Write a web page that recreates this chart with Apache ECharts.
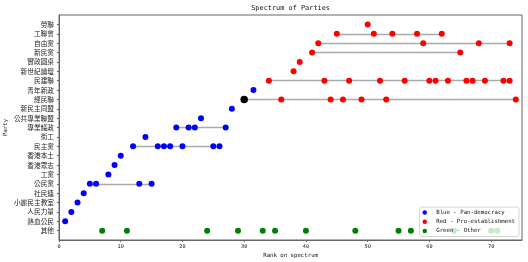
<!DOCTYPE html>
<html>
<head>
<meta charset="utf-8">
<script src="https://cdn.jsdelivr.net/npm/echarts@6/dist/echarts.min.js"></script>
<style>html,body{margin:0;padding:0;background:#fff}#c{width:528px;height:262px}</style>
</head>
<body>
<div id="c"></div>
<script>
// Parties, top to bottom
const parties = ['勞聯','工聯會','自由黨','新民黨','實政圓桌','新世紀論壇','民建聯','青年新政','經民聯','新民主同盟','公共專業聯盟','專業議政','街工','民主黨','香港本土','香港眾志','工黨','公民黨','社民連','小麗民主教室','人民力量','熱血公民','其他'];

// [party, ranks]
const bluePoints = [
  ['熱血公民',[1]], ['人民力量',[2]], ['小麗民主教室',[3]], ['社民連',[4]],
  ['公民黨',[5,6,13,15]], ['工黨',[8]], ['香港眾志',[9]], ['香港本土',[10]],
  ['民主黨',[12,16,17,18,20,25,26]], ['街工',[14]], ['專業議政',[19,21,22,27]],
  ['公共專業聯盟',[23]], ['新民主同盟',[28]], ['青年新政',[31.5]]
];
const redPoints = [
  ['勞聯',[50]], ['工聯會',[45,51,54,58,62]], ['自由黨',[42,59,68,73]],
  ['新民黨',[41,65]], ['實政圓桌',[39]], ['新世紀論壇',[38]],
  ['民建聯',[34,43,47,52,56,60,61,63,66,67,69,72,73]],
  ['經民聯',[36,44,46,49,53,74]]
];
const blackPoints = [['經民聯',[30]]];
const greenPoints = [['其他',[7,11,24,29,33,35,40,48,55,57,64,70,71]]];

const xTicks = [0,10,20,30,40,50,60,70];
const legendNames = ['Blue - Pan-democracy','Red - Pro-establishment','Green - Other'];

function toData(points){
  const out = [];
  points.forEach(([p, ranks]) => ranks.forEach(r => out.push([r, parties.indexOf(p)])));
  return out;
}
// range lines per party (non-green)
const ranges = {};
[bluePoints, redPoints, blackPoints].forEach(arr => arr.forEach(([p, ranks]) => {
  ranges[p] = (ranges[p] || []).concat(ranks);
}));
const lineData = [];
Object.keys(ranges).forEach(p => {
  const r = ranges[p];
  if (r.length > 1) {
    const row = parties.indexOf(p);
    lineData.push({coords: [[Math.min(...r), row], [Math.max(...r), row]]});
  }
});

const mono = 'DejaVu Sans Mono';
const cjk = '"Noto Sans CJK TC"';
const chart = echarts.init(document.getElementById('c'), null, {renderer: 'canvas'});
chart.setOption({
  animation: false,
  grid: {left: 59, right: 6, top: 15, bottom: 22, show: true, borderColor: '#666', borderWidth: 1, backgroundColor: 'transparent'},
  xAxis: {
    type: 'value', min: 0, max: 75, interval: 10,
    axisLine: {show: true, onZero: false, lineStyle: {color: '#666', width: 1}},
    axisTick: {show: true, length: 2, lineStyle: {color: '#666'}, customValues: xTicks},
    axisLabel: {margin: 4, fontSize: 5.2, fontFamily: mono, color: '#111', customValues: xTicks},
    splitLine: {show: false}
  },
  yAxis: {
    type: 'value', inverse: true, min: -1, max: 23, interval: 1,
    axisLine: {show: true, onZero: false, lineStyle: {color: '#666', width: 1}},
    axisTick: {show: true, length: 2, lineStyle: {color: '#666'}, customValues: parties.map((_, i) => i)},
    axisLabel: {margin: 5, fontSize: 6.7, fontFamily: cjk, color: '#222',
      customValues: parties.map((_, i) => i),
      formatter: v => (parties[v] !== undefined ? parties[v] : '')},
    splitLine: {show: false}
  },
  legend: {
    data: legendNames.map(n => ({name: n, icon: 'circle'})),
    orient: 'vertical', right: 9, bottom: 25.5,
    itemWidth: 13, itemHeight: 4.5, itemGap: 2.2,
    padding: [2, 4, 2, 3],
    backgroundColor: 'rgba(255,255,255,0.8)', borderColor: '#ccc', borderWidth: 0.8, borderRadius: 2,
    textStyle: {fontSize: 5.7, fontFamily: mono, color: '#111', lineHeight: 7, padding: [0,0,0,0]}
  },
  graphic: [
    {type: 'text', x: 290.6, y: 8, silent: true,
      style: {text: 'Spectrum of Parties', font: '6.9px "' + mono + '"', fill: '#111', textAlign: 'center', textVerticalAlign: 'middle', align: 'center', verticalAlign: 'middle'}},
    {type: 'text', x: 290.6, y: 255.7, silent: true,
      style: {text: 'Rank on spectrum', font: '5.7px "' + mono + '"', fill: '#111', textAlign: 'center', textVerticalAlign: 'middle', align: 'center', verticalAlign: 'middle'}},
    {type: 'text', x: 6, y: 127.5, rotation: Math.PI / 2, silent: true,
      style: {text: 'Party', font: '5.7px "' + mono + '"', fill: '#111', textAlign: 'center', textVerticalAlign: 'middle', align: 'center', verticalAlign: 'middle'}}
  ],
  series: [
    {type: 'lines', coordinateSystem: 'cartesian2d', data: lineData, silent: true, z: 1,
      lineStyle: {color: '#aaaaaa', width: 1.4, opacity: 1}},
    {name: legendNames[0], type: 'scatter', data: toData(bluePoints), symbolSize: 6, z: 3, itemStyle: {color: '#0000ff', opacity: 1}},
    {name: legendNames[1], type: 'scatter', data: toData(redPoints), symbolSize: 6, z: 3, itemStyle: {color: '#ff0000', opacity: 1}},
    {name: 'black', type: 'scatter', data: toData(blackPoints), symbolSize: 7.5, z: 3, itemStyle: {color: '#000000', opacity: 1}},
    {name: legendNames[2], type: 'scatter', data: toData(greenPoints), symbolSize: 6, z: 3, itemStyle: {color: '#008000', opacity: 1}}
  ]
});
</script>
</body>
</html>
